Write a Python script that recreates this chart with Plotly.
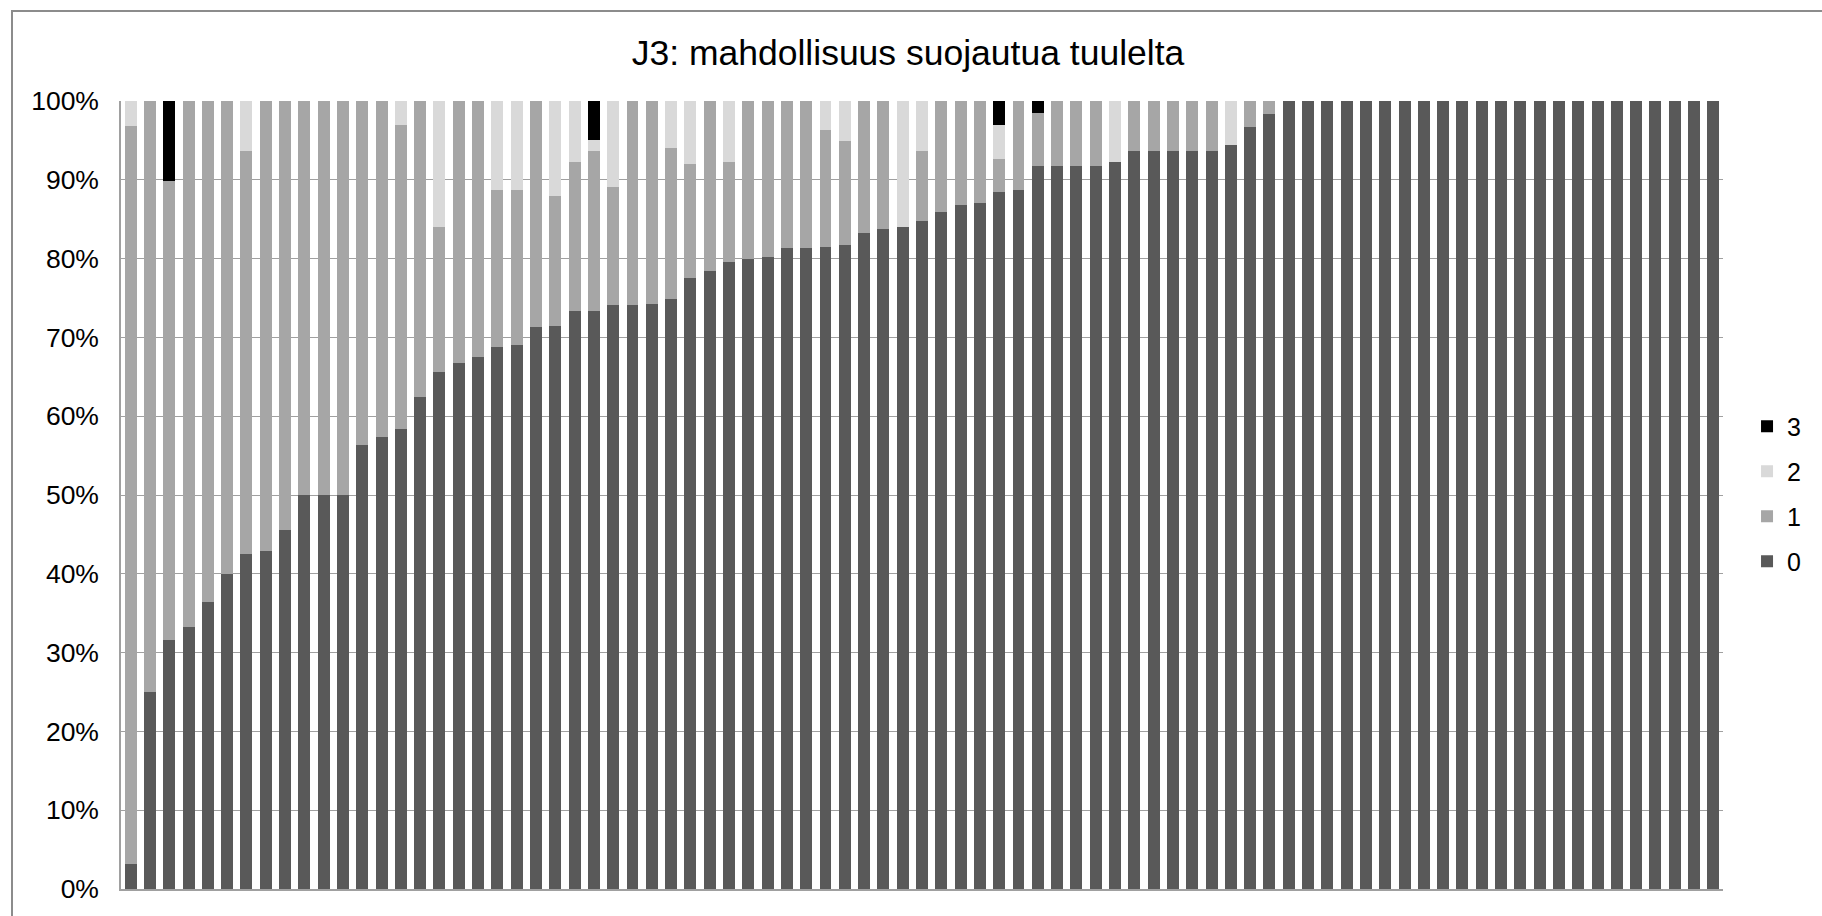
import plotly.graph_objects as go

# Share of answers per site (percent), sorted by share of "0"
sites = list(range(1, 84))

share_0 = [3.2, 25.0, 31.6, 33.3, 36.4, 40.0, 42.5, 42.9, 45.5, 50.0,
           50.0, 50.0, 56.3, 57.3, 58.4, 62.5, 65.6, 66.7, 67.5, 68.8,
           69.0, 71.3, 71.5, 73.3, 73.3, 74.1, 74.1, 74.3, 74.9, 77.6,
           78.4, 79.6, 80.0, 80.2, 81.3, 81.3, 81.5, 81.7, 83.2, 83.8,
           84.0, 84.8, 85.9, 86.8, 87.0, 88.4, 88.7, 91.7, 91.7, 91.7,
           91.7, 92.3, 93.7, 93.7, 93.7, 93.7, 93.7, 94.4, 96.7, 98.4] + [100.0] * 23

share_1 = [93.6, 75.0, 58.2, 66.7, 63.6, 60.0, 51.2, 57.1, 54.5, 50.0,
           50.0, 50.0, 43.7, 42.7, 38.5, 37.5, 18.4, 33.3, 32.5, 19.9,
           19.7, 28.7, 16.5, 19.0, 20.35, 15.0, 25.9, 25.7, 19.1, 14.4,
           21.6, 12.7, 20.0, 19.8, 18.7, 18.7, 14.8, 13.2, 16.8, 16.2,
           0.0, 8.9, 14.1, 13.2, 13.0, 4.3, 11.3, 6.8, 8.3, 8.3,
           8.3, 0.0, 6.3, 6.3, 6.3, 6.3, 6.3, 0.0, 3.3, 1.6] + [0.0] * 23

share_2 = [3.2, 0.0, 0.0, 0.0, 0.0, 0.0, 6.3, 0.0, 0.0, 0.0,
           0.0, 0.0, 0.0, 0.0, 3.1, 0.0, 16.0, 0.0, 0.0, 11.3,
           11.3, 0.0, 12.0, 7.7, 1.4, 10.9, 0.0, 0.0, 6.0, 8.0,
           0.0, 7.7, 0.0, 0.0, 0.0, 0.0, 3.7, 5.1, 0.0, 0.0,
           16.0, 6.3, 0.0, 0.0, 0.0, 4.3, 0.0, 0.0, 0.0, 0.0,
           0.0, 7.7, 0.0, 0.0, 0.0, 0.0, 0.0, 5.6, 0.0, 0.0] + [0.0] * 23

share_3 = [0.0, 0.0, 10.2, 0.0, 0.0, 0.0, 0.0, 0.0, 0.0, 0.0,
           0.0, 0.0, 0.0, 0.0, 0.0, 0.0, 0.0, 0.0, 0.0, 0.0,
           0.0, 0.0, 0.0, 0.0, 4.95, 0.0, 0.0, 0.0, 0.0, 0.0,
           0.0, 0.0, 0.0, 0.0, 0.0, 0.0, 0.0, 0.0, 0.0, 0.0,
           0.0, 0.0, 0.0, 0.0, 0.0, 3.0, 0.0, 1.5, 0.0, 0.0,
           0.0, 0.0, 0.0, 0.0, 0.0, 0.0, 0.0, 0.0, 0.0, 0.0] + [0.0] * 23

series_names = ["0", "1", "2", "3"]
series_values = [share_0, share_1, share_2, share_3]
series_colors = ["#595959", "#a6a6a6", "#d9d9d9", "#000000"]
# legend lists the top segment first
legend_ranks = [4, 3, 2, 1]

FONT = "Liberation Sans, Arial, sans-serif"

fig = go.Figure()
for name, vals, col, rank in zip(series_names, series_values, series_colors, legend_ranks):
    fig.add_trace(go.Bar(
        x=sites, y=vals, name=name, legendgroup=name, legendrank=rank,
        marker=dict(color=col, line=dict(width=0)),
    ))

fig.update_layout(
    width=1822, height=916,
    barmode="stack", bargap=0.38,
    paper_bgcolor="white", plot_bgcolor="white",
    margin=dict(l=121, r=99, t=101, b=27),
    font=dict(family=FONT, size=25, color="#000000"),
    title=dict(text="J3: mahdollisuus suojautua tuulelta",
               x=908 / 1822, xanchor="center",
               y=1 - 53 / 916, yanchor="middle",
               font=dict(family=FONT, size=35.5, color="#000000")),
    showlegend=True,
    legend=dict(traceorder="grouped", tracegroupgap=9.5,
                x=1.015, xanchor="left", y=0.616, yanchor="top",
                font=dict(family=FONT, size=25, color="#000000"),
                bgcolor="rgba(0,0,0,0)", itemwidth=30),
    xaxis=dict(range=[0.5, 83.5], showticklabels=False, ticks="",
               showgrid=False, zeroline=False,
               showline=True, linecolor="#a0a0a0", linewidth=1.5),
    yaxis=dict(range=[0, 100], dtick=10, ticksuffix="%",
               showgrid=True, gridcolor="#a0a0a0", gridwidth=1.3,
               zeroline=False, showline=True, linecolor="#a0a0a0", linewidth=1.5,
               ticks="", ticklabelstandoff=15,
               tickfont=dict(family=FONT, size=26.5, color="#000000")),
    shapes=[dict(type="rect", xref="paper", yref="paper",
                 x0=(12 - 121) / 1602, x1=1.2,
                 y0=-0.2, y1=(889 - 11) / 788,
                 line=dict(color="#8c8c8c", width=2), fillcolor="rgba(0,0,0,0)",
                 layer="below")],
)

fig.write_html("out.html")
